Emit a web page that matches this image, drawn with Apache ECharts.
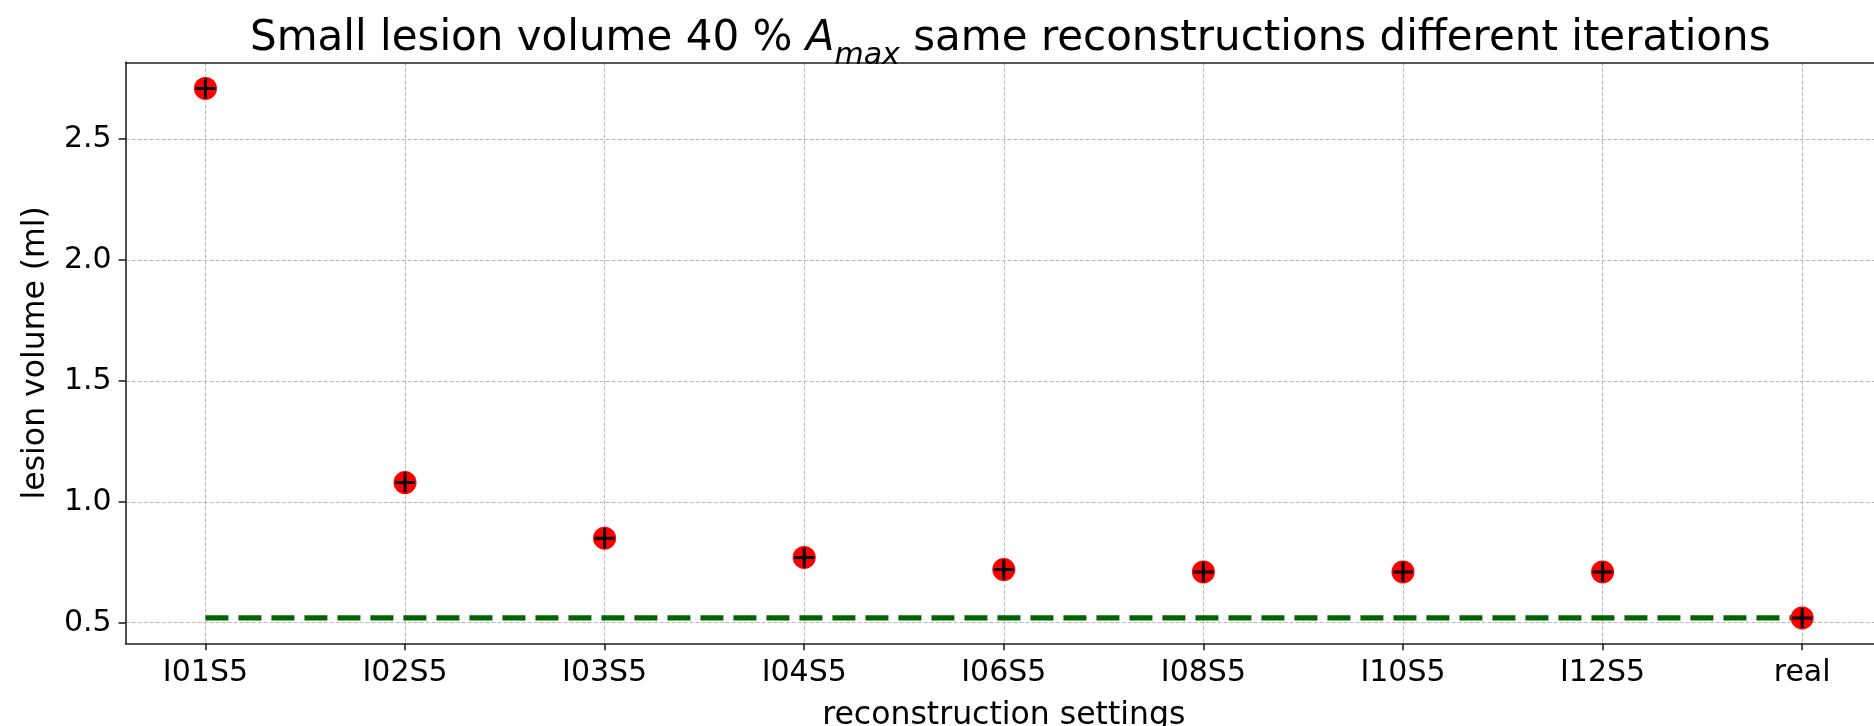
<!DOCTYPE html>
<html><head><meta charset="utf-8">
<script src="https://cdn.jsdelivr.net/npm/echarts@6/dist/echarts.min.js"></script>
<style>html,body{margin:0;padding:0;background:#fff}#c{width:1874px;height:726px}</style>
</head><body><div id="c"></div>
<script>
const categories = ['I01S5','I02S5','I03S5','I04S5','I06S5','I08S5','I10S5','I12S5','real'];
const volumes = [2.71, 1.08, 0.85, 0.77, 0.72, 0.71, 0.71, 0.71, 0.52];
const realVolume = 0.52;
const yTicks = [0.5, 1.0, 1.5, 2.0, 2.5];

const FONT = 'DejaVu Sans';
const xIdx = categories.map((c, i) => i);
const points = volumes.map((v, i) => [i, v]);
const refLine = [[0, realVolume], [categories.length - 1, realVolume]];

const gridLine = { show: true, lineStyle: { color: '#b8b8b8', width: 1, type: [4, 2] } };
const chart = echarts.init(document.getElementById('c'), null, { renderer: 'canvas' });
chart.setOption({
  animation: false,
  backgroundColor: '#fff',
  title: {
    left: 245, top: 8,
    textStyle: {
      fontFamily: FONT, fontSize: 42, color: '#000', fontWeight: 'normal',
      rich: {
        n: { fontFamily: FONT, fontSize: 42, color: '#000', lineHeight: 52 },
        a: { fontFamily: FONT, fontSize: 42, color: '#000', fontStyle: 'italic', lineHeight: 52 },
        s: { fontFamily: FONT, fontSize: 30, color: '#000', fontStyle: 'italic', lineHeight: 52, verticalAlign: 'bottom', padding: [0, 0, -6, 0] }
      }
    },
    text: '{n|Small lesion volume 40 % }{a|A}{s|max}{n| same reconstructions different iterations}'
  },
  grid: { left: 125.6, top: 62.3, width: 1756.4, height: 581, containLabel: false, outerBoundsMode: 'none' },
  xAxis: [{
    type: 'value', min: -0.4, max: categories.length - 1 + 0.4,
    position: 'bottom',
    axisLine: { show: true, onZero: false, lineStyle: { color: '#222', width: 1.6 } },
    axisTick: { show: true, customValues: xIdx, length: 7, lineStyle: { color: '#222', width: 1.6 } },
    axisLabel: { customValues: xIdx, formatter: v => categories[Math.round(v)] || '', fontFamily: FONT, fontSize: 30, color: '#000', margin: 15 },
    splitLine: gridLine,
    name: 'reconstruction settings', nameLocation: 'middle', nameGap: 57,
    nameTextStyle: { fontFamily: FONT, fontSize: 31.5, color: '#000' }
  }, {
    type: 'value', min: -0.4, max: categories.length - 1 + 0.4, position: 'top',
    axisLine: { show: true, onZero: false, lineStyle: { color: '#222', width: 1.6 } },
    axisTick: { show: false }, axisLabel: { show: false }, splitLine: { show: false }
  }],
  yAxis: [{
    type: 'value', min: 0.415, max: 2.818,
    axisLine: { show: true, onZero: false, lineStyle: { color: '#222', width: 1.6 } },
    axisTick: { show: true, customValues: yTicks, length: 7, lineStyle: { color: '#222', width: 1.6 } },
    axisLabel: { customValues: yTicks, formatter: v => v.toFixed(1), fontFamily: FONT, fontSize: 30, color: '#000', margin: 14 },
    splitLine: gridLine,
    name: 'lesion volume (ml)', nameLocation: 'middle', nameGap: 74, nameRotate: 90,
    nameTextStyle: { fontFamily: FONT, fontSize: 31.5, color: '#000' }
  }],
  series: [{
    type: 'line', data: refLine, symbol: 'none', z: 2,
    lineStyle: { color: '#006400', width: 5.3, type: [23, 10] }
  }, {
    type: 'scatter', data: points, symbol: 'circle', symbolSize: 23, z: 3,
    itemStyle: { color: '#ff0000', opacity: 1 }
  }, {
    type: 'scatter', data: points, symbol: 'path://M8.5,0H11.5V8.5H20V11.5H11.5V20H8.5V11.5H0V8.5H8.5Z', symbolSize: 20, z: 4,
    itemStyle: { color: '#000', opacity: 1 }
  }]
});
</script></body></html>
